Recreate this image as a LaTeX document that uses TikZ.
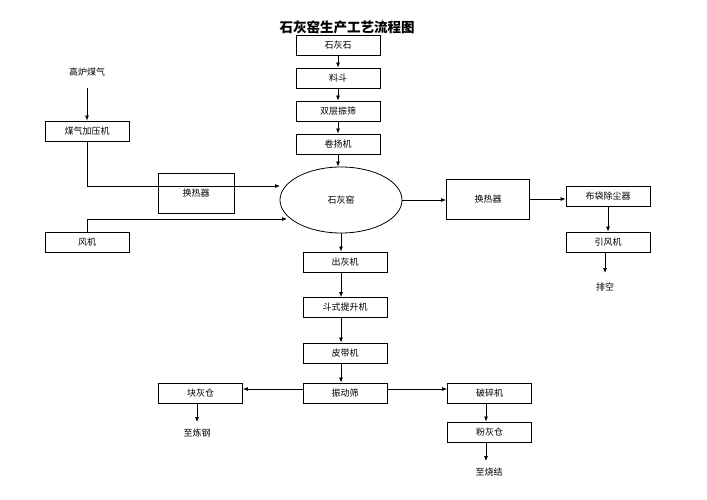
\documentclass[tikz,border=0pt]{standalone}
\usepackage{fontspec}
\setmainfont{Noto Sans CJK SC}
\usetikzlibrary{arrows.meta,shapes.geometric}
\begin{document}
\begin{tikzpicture}[x=1pt,y=-1pt,
  box/.style={draw=black,line width=0.9pt,minimum width=84pt,minimum height=20pt,inner sep=0pt,font=\fontsize{9}{10}\selectfont},
  bigbox/.style={box,minimum height=40pt},
  lbl/.style={inner sep=1pt,font=\fontsize{9}{10}\selectfont},
  arr/.style={draw=black,line width=0.7pt,-{Latex[length=5pt,width=4pt]}}]
\useasboundingbox (0,0) rectangle (707,500);
\node[font=\fontsize{13.5}{15}\selectfont\bfseries] (title) at (347,27) {石灰窑生产工艺流程图};
% top column
\node[box] (s1) at (338,45.5) {石灰石};
\node[box] (s2) at (338,78) {料斗};
\node[box] (s3) at (338,111) {双层振筛};
\node[box] (s4) at (338,144) {卷扬机};
\node[draw=black,line width=0.8pt,ellipse,minimum width=122pt,minimum height=66pt,inner sep=0pt,font=\fontsize{9}{10}\selectfont] (kiln) at (341,200) {石灰窑};
% left side
\node[lbl] (gas) at (87,72) {高炉煤气};
\node[box] (comp) at (87,131) {煤气加压机};
\node[bigbox,minimum width=76pt] (hx1) at (196,193) {换热器};
\node[box] (fan) at (87,242) {风机};
% right side
\node[bigbox,minimum width=83pt] (hx2) at (488,199) {换热器};
\node[box] (bag) at (608,196) {布袋除尘器};
\node[box] (idf) at (608,242) {引风机};
\node[lbl] (vent) at (605,287) {排空};
% lower column
\node[box] (ash) at (345,262) {出灰机};
\node[box] (lift) at (345,307.5) {斗式提升机};
\node[box] (belt) at (345,353) {皮带机};
\node[box] (screen) at (345,393) {振动筛};
\node[box] (lump) at (200.5,393) {块灰仓};
\node[box] (crush) at (489.5,393) {破碎机};
\node[box] (powder) at (489.5,432) {粉灰仓};
\node[lbl] (steel) at (197,433) {至炼钢};
\node[lbl] (sinter) at (489,472) {至烧结};
% free ends
\coordinate (k1) at (280,186);
\coordinate (k2) at (287,219);
\coordinate (g1) at (87,88);
\coordinate (v1) at (605,273);
\coordinate (st1) at (197,422);
\coordinate (si1) at (486,461);
% connectors
\draw[arr] (s1.south) -- (s2.north);
\draw[arr] (s2.south) -- (s3.north);
\draw[arr] (s3.south) -- (s4.north);
\draw[arr] (s4.south) -- (s4.south |- kiln.north);
\draw[arr] (g1) -- (comp.north);
\draw[arr] (comp.south) |- (k1);
\draw[arr] (fan.north) |- (k2);
\draw[arr] (kiln.east) -- (kiln.east -| hx2.west);
\draw[arr] (hx2.east) -- (hx2.east -| bag.west);
\draw[arr] (bag.south) -- (idf.north);
\draw[arr] (idf.south -| v1) -- (v1);
\draw[arr] (kiln.south) -- (kiln.south |- ash.north);
\draw[arr] (ash.south -| kiln.south) -- (lift.north -| kiln.south);
\draw[arr] (lift.south -| kiln.south) -- (belt.north -| kiln.south);
\draw[arr] (belt.south -| kiln.south) -- (screen.north -| kiln.south);
\draw[arr] ([yshift=4pt]screen.west) -- ([yshift=4pt]screen.west -| lump.east);
\draw[arr] ([yshift=4pt]screen.east) -- ([yshift=4pt]screen.east -| crush.west);
\draw[arr] (lump.south -| st1) -- (st1);
\draw[arr] (crush.south -| si1) -- (powder.north -| si1);
\draw[arr] (powder.south -| si1) -- (si1);
\end{tikzpicture}
\end{document}
